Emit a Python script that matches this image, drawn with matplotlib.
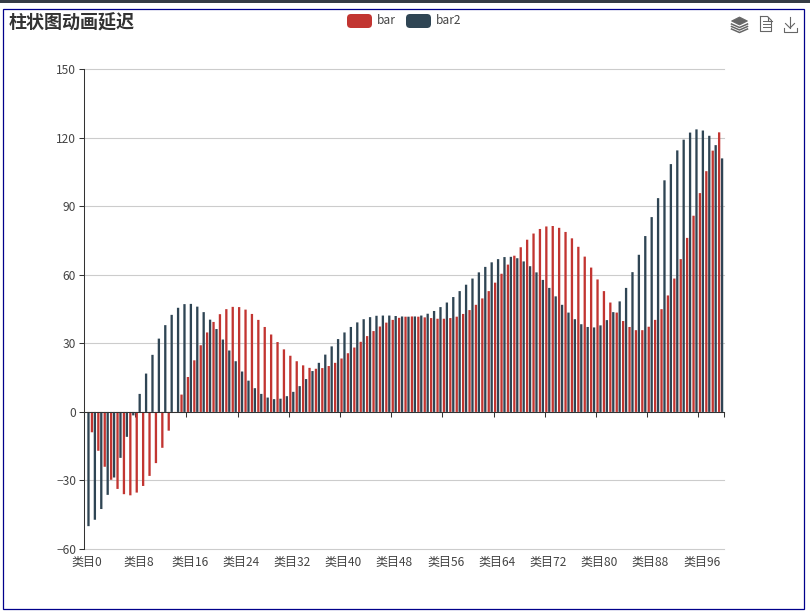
import matplotlib
matplotlib.use("Agg")
import matplotlib.pyplot as plt
from matplotlib.patches import FancyBboxPatch, Polygon, Rectangle

plt.rcParams["font.family"] = ["Noto Sans CJK SC", "DejaVu Sans"]

# values
bar_values = [
    0.0, -8.9, -17.0, -24.0, -29.7, -33.7, -36.0, -36.5, -35.3, -32.4,
    -28.0, -22.4, -15.7, -8.2, -0.4, 7.6, 15.3, 22.6, 29.2, 34.8,
    39.4, 42.8, 45.0, 46.0, 45.9, 44.8, 42.9, 40.3, 37.2, 33.9,
    30.6, 27.4, 24.6, 22.2, 20.4, 19.3, 18.9, 19.2, 20.1, 21.5,
    23.4, 25.7, 28.2, 30.7, 33.2, 35.4, 37.4, 39.1, 40.3, 41.2,
    41.7, 41.8, 41.7, 41.4, 41.1, 40.8, 40.8, 41.1, 41.7, 42.9,
    44.6, 46.9, 49.7, 52.9, 56.6, 60.5, 64.5, 68.4, 72.1, 75.4,
    78.1, 80.1, 81.2, 81.4, 80.6, 78.8, 76.0, 72.3, 68.0, 63.2,
    58.0, 52.9, 47.9, 43.5, 39.8, 37.2, 35.8, 35.8, 37.3, 40.3,
    45.0, 51.0, 58.4, 66.9, 76.2, 85.9, 95.8, 105.4, 114.4, 122.4,
]
bar2_values = [
    -50.0, -47.2, -42.5, -36.3, -28.7, -20.1, -10.9, -1.5, 7.9, 16.8,
    25.0, 32.1, 38.0, 42.5, 45.6, 47.2, 47.3, 46.1, 43.7, 40.4,
    36.3, 31.7, 26.9, 22.2, 17.7, 13.7, 10.4, 7.9, 6.3, 5.6,
    5.8, 6.9, 8.8, 11.3, 14.4, 17.9, 21.5, 25.1, 28.7, 31.9,
    34.8, 37.2, 39.2, 40.6, 41.5, 42.1, 42.2, 42.2, 42.0, 41.8,
    41.7, 41.8, 42.2, 43.0, 44.2, 45.9, 47.9, 50.3, 52.9, 55.7,
    58.4, 61.1, 63.5, 65.5, 66.9, 67.8, 67.9, 67.3, 65.9, 63.8,
    61.1, 57.8, 54.3, 50.6, 46.9, 43.5, 40.6, 38.4, 37.2, 37.0,
    37.9, 40.2, 43.7, 48.4, 54.3, 61.2, 68.8, 77.0, 85.3, 93.6,
    101.4, 108.5, 114.5, 119.2, 122.3, 123.7, 123.2, 120.9, 116.8, 111.0,
]
categories = [f"类目{i}" for i in range(100)]
y_ticks = [-60, -30, 0, 30, 60, 90, 120, 150]

RED = "#c23531"
DARK = "#2f4554"
TEXT = "#333333"
LABEL = "#444444"
ICON = "#666666"
W, H = 810, 616

fig = plt.figure(figsize=(W / 100, H / 100), dpi=100)

# plot area in pixels: x 84-724, y 69.3-549
ax = fig.add_axes([84 / W, 1 - 549 / H, 640 / W, 479.7 / H])
positions = list(range(len(categories)))
bar_w = 0.36
ax.bar([p - 0.26 for p in positions], bar_values, width=bar_w, color=RED, zorder=3, snap=False)
ax.bar([p + 0.2 for p in positions], bar2_values, width=bar_w, color=DARK, zorder=3, snap=False)

ax.set_xlim(-0.5, 99.5)
ax.set_ylim(-60, 150)
ax.set_yticks(y_ticks)
ax.yaxis.grid(True, color="#cccccc", linewidth=0.8, zorder=1, clip_on=False)
ax.set_axisbelow(True)
ax.tick_params(axis="y", length=3.6, width=0.75, color=TEXT, labelcolor=LABEL, labelsize=8.64, pad=2)

for side in ["top", "right"]:
    ax.spines[side].set_visible(False)
ax.spines["left"].set_color(TEXT)
ax.spines["left"].set_linewidth(0.75)
ax.spines["left"].set_zorder(5)
ax.spines["bottom"].set_position(("data", 0))
ax.spines["bottom"].set_color(TEXT)
ax.spines["bottom"].set_linewidth(0.75)
ax.spines["bottom"].set_zorder(5)

# ticks sit on the zero line at band edges, labels stay at the bottom
ax.set_xticks([p - 0.5 for p in positions[::8]] + [99.5])
ax.tick_params(axis="x", length=3.6, width=0.75, color=TEXT, labelbottom=False)
label_axis = ax.secondary_xaxis("bottom")
label_axis.set_xticks(positions[::8], labels=categories[::8])
label_axis.tick_params(axis="x", length=0, labelcolor=LABEL, labelsize=8.64, pad=5)
label_axis.spines["bottom"].set_visible(False)

# page furniture in pixel coordinates
page = fig.add_axes([0, 0, 1, 1], facecolor="none")
page.set_xlim(0, W)
page.set_ylim(H, 0)
page.axis("off")
page.add_patch(Rectangle((0, 0), W, 3, color="#353c46", linewidth=0))
page.add_patch(Rectangle((3, 8.5), 801, 600.5, fill=False, edgecolor="#00008b", linewidth=0.9))
page.text(9, 23, "柱状图动画延迟", fontsize=13, fontweight="bold", color=TEXT, va="center", ha="left")

# legend
for x0, name, color in [(347, "bar", RED), (406, "bar2", DARK)]:
    page.add_patch(FancyBboxPatch((x0 + 4, 18), 17, 6, boxstyle="round,pad=4,rounding_size=4",
                                  facecolor=color, edgecolor="none"))
    page.text(x0 + 30, 20.5, name, fontsize=8.64, color=LABEL, va="center", ha="left")

# toolbox: stack icon
page.add_patch(Polygon([(739.5, 17), (747.5, 21), (739.5, 25), (731.5, 21)], facecolor=ICON, edgecolor=ICON, linewidth=0.6))
for dy in [0, 2.5, 5]:
    page.plot([731.5, 739.5, 747.5], [24 + dy, 28 + dy - 0.5, 24 + dy], color=ICON, linewidth=1.1)

# toolbox: data view icon
page.plot([760.5, 767.5, 771.5, 771.5, 760.5, 760.5], [16.5, 16.5, 20.5, 31.5, 31.5, 16.5], color=ICON, linewidth=0.8)
page.plot([767.5, 767.5, 771.5], [16.5, 20.5, 20.5], color=ICON, linewidth=0.8)
for y in [21, 24, 27]:
    page.plot([762.5, 769.5], [y, y], color=ICON, linewidth=0.7)

# toolbox: save icon
page.plot([790, 790], [17, 28], color=ICON, linewidth=0.8)
page.plot([785.5, 790, 794.5], [23.5, 28, 23.5], color=ICON, linewidth=0.8)
page.plot([783.5, 783.5, 796.5, 796.5], [27.5, 31.5, 31.5, 27.5], color=ICON, linewidth=0.8)

fig.savefig("out.png", dpi=100)
